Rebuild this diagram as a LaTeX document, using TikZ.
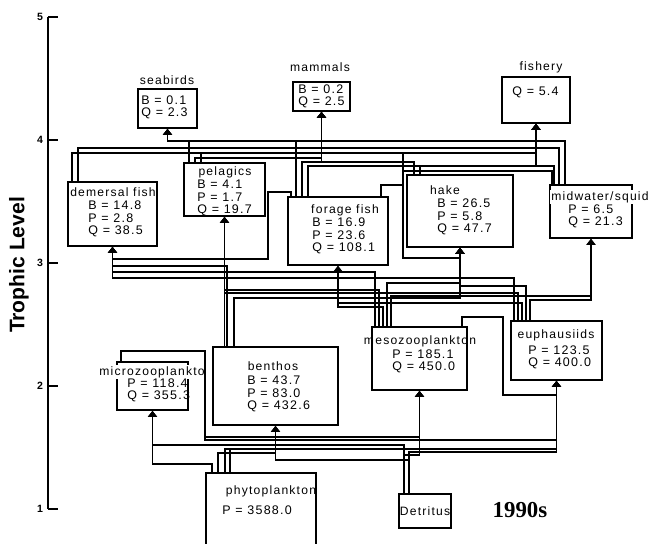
\documentclass[tikz,border=0pt]{standalone}
\usepackage{fontspec}
\setmainfont{Liberation Sans}
\newfontfamily\boxfont[LetterSpace=10]{Liberation Sans}
\newfontfamily\yrfont{Liberation Serif}
\usetikzlibrary{positioning,arrows.meta,calc}
\tikzset{
  fwbox/.style={draw,line width=0.9pt,inner sep=0pt},
  boxsz/.style 2 args={minimum width=#1*0.2mm,minimum height=#2*0.2mm},
  lbl/.style={font=\boxfont\fontsize{6.9}{7}\selectfont,inner sep=0pt},
  lblw/.style={lbl,fill=white,inner sep=0.5pt},
  vals/.style={font=\boxfont\fontsize{7.1}{7}\selectfont,inner sep=0pt,align=left,anchor=west},
  feed/.style={-{Triangle[length=3.4pt,width=5pt]},line width=0.85pt},
  axln/.style={line width=0.9pt},
  tklbl/.style={font=\bfseries\fontsize{6}{7}\selectfont,inner sep=0pt},
}

\begin{document}
\begin{tikzpicture}[x=0.2mm,y=-0.2mm]
  \useasboundingbox (0,0) rectangle (650,544);
  % trophic level axis
  \draw[axln] (48,17) -- (48,509);
  \foreach \lv/\yy in {5/17,4/140,3/263,2/386,1/509}{
    \draw[axln] (48,\yy) -- (58,\yy);
    \node[tklbl] (tk\lv) at (40,\yy) {\lv};
  }
  \node[rotate=90,font=\bfseries\fontsize{12}{14}\selectfont] (ttl) at (19,265) {Trophic Level};
  \node[font=\yrfont\bfseries\fontsize{13}{15}\selectfont] (yr) at (520,510) {1990s};

  % boxes
  \node[fwbox,boxsz={59}{39}] (sb) at (167.5,108.5) {};
  \node[fwbox,boxsz={57}{29}] (mm) at (321.5,96.5) {};
  \node[fwbox,boxsz={68}{46}] (fy) at (536,100) {};
  \node[fwbox,boxsz={89}{64}] (dm) at (112.5,214) {};
  \node[fwbox,boxsz={81}{53}] (pl) at (224.5,189.5) {};
  \node[fwbox,boxsz={100}{68}] (ff) at (338,231) {};
  \node[fwbox,boxsz={106}{72}] (hk) at (460,211) {};
  \node[fwbox,boxsz={82}{53}] (mw) at (591,211.5) {};
  \node[fwbox,boxsz={71}{48}] (mz) at (152.5,386) {};
  \node[fwbox,boxsz={125}{78}] (bn) at (275.5,386) {};
  \node[fwbox,boxsz={95}{63}] (ms) at (419.5,358.5) {};
  \node[fwbox,boxsz={91}{59}] (eu) at (556.5,350.5) {};
  \node[fwbox,boxsz={110}{79}] (ph) at (261,512.5) {};
  \node[fwbox,boxsz={52}{34}] (dt) at (425,511) {};

  % names and values
  \node[lbl] (sbl) at (167,80) {seabirds};
  \node[vals] (sbv) at (141,107.5) {B = 0.1\\Q = 2.3};
  \node[lbl] (mml) at (320,67) {mammals};
  \node[vals] (mmv) at (298,96) {B = 0.2\\Q = 2.5};
  \node[lbl] (fyl) at (541,67) {fishery};
  \node[vals] (fyv) at (512,92) {Q = 5.4};
  \node[lbl] (dml) at (113,192) {demersal fish};
  \node[vals] (dmv) at (88,219) {B = 14.8\\P = 2.8\\Q = 38.5};
  \node[lbl] (pll) at (225,172) {pelagics};
  \node[vals] (plv) at (197,198) {B = 4.1\\P = 1.7\\Q = 19.7};
  \node[lbl] (ffl) at (345,210) {forage fish};
  \node[vals] (ffv) at (312,236) {B = 16.9\\P = 23.6\\Q = 108.1};
  \node[lbl] (hkl) at (445,190) {hake};
  \node[vals] (hkv) at (437,217) {B = 26.5\\P = 5.8\\Q = 47.7};
  \node[lblw] (mwl) at (600,197) {midwater/squid};
  \node[vals] (mwv) at (568,216) {P = 6.5\\Q = 21.3};
  \node[lblw] (mzl) at (152,372) {microzooplankto};
  \node[vals] (mzv) at (127,390) {P = 118.4\\Q = 355.3};
  \node[lbl] (bnl) at (273,366) {benthos};
  \node[vals] (bnv) at (247,394) {B = 43.7\\P = 83.0\\Q = 432.6};
  \node[lbl] (msl) at (420,341) {mesozooplankton};
  \node[vals] (msv) at (392,361) {P = 185.1\\Q = 450.0};
  \node[lbl] (eul) at (556,335) {euphausiids};
  \node[vals] (euv) at (528,357) {P = 123.5\\Q = 400.0};
  \node[lbl] (phl) at (271,491) {phytoplankton};
  \node[vals] (phv) at (222,510) {P = 3588.0};
  \node[lbl] (dtl) at (425,511) {Detritus};

  % flows to top predators
  \draw[feed] ($(pl.north west)+(6,0)$) |- (sb.south |- 0,141) -- (sb.south);
  \draw[feed] ($(ff.north west)+(9,0)$) |- (sb.south |- 0,141) -- (sb.south);
  \draw[feed] ($(mw.north west)+(16,0)$) |- (sb.south |- 0,141) -- (sb.south);
  \draw[feed] ($(dm.north west)+(11,0)$) |- (mm.south |- 0,148) -- (mm.south);
  \draw[feed] ($(pl.north west)+(12,0)$) |- (mm.south |- 0,158) -- (mm.south);
  \draw[feed] ($(ff.north west)+(15,0)$) |- (mm.south |- 0,162) -- (mm.south);
  \draw[feed] ($(hk.north west)+(8,0)$) |- (mm.south |- 0,162) -- (mm.south);
  \draw[feed] ($(mw.north west)+(10,0)$) |- (mm.south |- 0,148) -- (mm.south);
  \draw[feed] ($(dm.north west)+(5,0)$) |- (fy.south |- 0,153) -- (fy.south);
  \draw[feed] ($(pl.north west)+(18,0)$) |- (fy.south |- 0,153) -- (fy.south);
  \draw[feed] ($(ff.north west)+(21,0)$) |- (fy.south |- 0,166) -- (fy.south);
  \draw[feed] ($(hk.north west)+(14,0)$) |- (fy.south |- 0,166) -- (fy.south);
  \draw[feed] ($(mw.north west)+(5,0)$) |- (fy.south |- 0,166) -- (fy.south);

  % hake, fed round its left side
  \draw[feed] ($(ff.north east)+(-8,0)$) |- (403,185) |- (hk.south |- 0,258) -- (hk.south);
  \draw[feed] ($(mw.north west)+(3,0)$) |- (403,171) |- (hk.south |- 0,258) -- (hk.south);
  \draw[feed] ($(dm.north west)+(5,0)$) |- (403,153) |- (hk.south |- 0,258) -- (hk.south);

  % demersal fish
  \draw[feed] ($(ff.north west)+(4,0)$) |- (268,192) |- (dm.south |- 0,259) -- (dm.south);
  \draw[feed] ($(bn.north west)+(15,0)$) |- (dm.south |- 0,266) -- (dm.south);
  \draw[feed] ($(ms.north west)+(4,0)$) |- (dm.south |- 0,272) -- (dm.south);
  \draw[feed] ($(eu.north west)+(4,0)$) |- (dm.south |- 0,278) -- (dm.south);

  % pelagics
  \draw[feed] (bn.north -| pl.south) -- (pl.south);
  \draw[feed] ($(ms.north west)+(8,0)$) |- (pl.south |- 0,290) -- (pl.south);
  \draw[feed] ($(eu.north west)+(8,0)$) |- (pl.south |- 0,293) -- (pl.south);

  % forage fish, hake, midwater from below
  \draw[feed] ($(ms.north west)+(12,0)$) |- (ff.south |- 0,307) -- (ff.south);
  \draw[feed] ($(eu.north west)+(12,0)$) |- (ff.south |- 0,303) -- (ff.south);
  \draw[feed] ($(ms.north west)+(16,0)$) |- (hk.south |- 0,283) -- (hk.south);
  \draw[feed] ($(eu.north west)+(16,0)$) |- (hk.south |- 0,286) -- (hk.south);
  \draw[feed] ($(bn.north west)+(22,0)$) |- (hk.south |- 0,298) -- (hk.south);
  \draw[feed] ($(ms.north west)+(20,0)$) |- (mw.south |- 0,296) -- (mw.south);
  \draw[feed] ($(eu.north west)+(20,0)$) |- (mw.south |- 0,300) -- (mw.south);
  \draw[feed] ($(ms.north east)+(-6,0)$) |- (503,317) |- (eu.south |- 0,395) -- (eu.south);

  % plankton and benthos
  \draw[feed] ($(ph.north west)+(7,0)$) |- (mz.south |- 0,464) -- (mz.south);
  \draw[feed] ($(dt.north west)+(6,0)$) |- (mz.south |- 0,445) -- (mz.south);
  \draw[feed] ($(ph.north west)+(13,0)$) |- (bn.south |- 0,453) -- (bn.south);
  \draw[feed] ($(dt.north west)+(11,0)$) |- (bn.south |- 0,460) -- (bn.south);
  \draw[feed] ($(ph.north west)+(20,0)$) |- (ms.south |- 0,449) -- (ms.south);
  \draw[feed] ($(dt.north west)+(6,0)$) |- (ms.south |- 0,455) -- (ms.south);
  \draw[feed] ($(mz.north west)+(5,0)$) |- (205,351) |- (ms.south |- 0,437) -- (ms.south);
  \draw[feed] ($(mz.north west)+(5,0)$) |- (205,351) |- (eu.south |- 0,440) -- (eu.south);
  \draw[feed] ($(ph.north west)+(25,0)$) |- (eu.south |- 0,449) -- (eu.south);
  \draw[feed] ($(dt.north west)+(11,0)$) |- (eu.south |- 0,452) -- (eu.south);
\end{tikzpicture}
\end{document}
